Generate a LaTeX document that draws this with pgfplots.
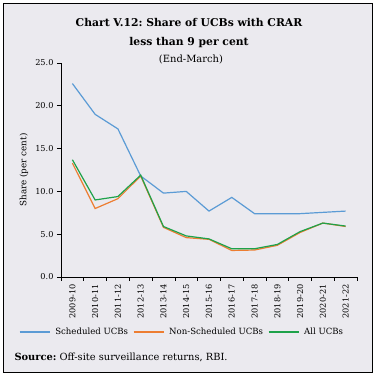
\documentclass[border=0pt]{standalone}
\usepackage{fontspec}
\setmainfont{DejaVu Serif}
\usepackage{pgfplots}
\pgfplotsset{compat=1.18}
\definecolor{bg}{HTML}{EBEAEF}
\definecolor{sblue}{HTML}{5B9BD5}
\definecolor{sorange}{HTML}{ED7D31}
\definecolor{sgreen}{HTML}{1EA24A}
\frenchspacing
\begin{document}
\begin{tikzpicture}
\path (0bp,0bp) rectangle (375bp,375bp);
\draw[fill=bg, line width=0.9bp] (3bp,3bp) rectangle (372bp,372bp);
\node[font=\bfseries\fontsize{10.8}{12}\selectfont] at (189bp,353bp) {Chart V.12: Share of UCBs with CRAR};
\node[font=\bfseries\fontsize{10.8}{12}\selectfont] at (189bp,332bp) {less than 9 per cent};
\node[font=\fontsize{10}{11}\selectfont] at (191bp,316bp) {(End-March)};
\node[anchor=west, font=\fontsize{9.9}{11}\selectfont] at (11bp,18bp) {\textbf{Source:} Off-site surveillance returns, RBI.};
\begin{axis}[
  at={(61bp,98bp)}, anchor=south west,
  scale only axis, width=296bp, height=214bp,
  xmin=-0.5, xmax=12.5, ymin=0, ymax=25,
  axis lines*=left,
  axis line style={line width=0.6bp},
  tick align=outside,
  xtick={0,...,12},
  xticklabels={2009-10,2010-11,2011-12,2012-13,2013-14,2014-15,2015-16,2016-17,2017-18,2018-19,2019-20,2020-21,2021-22},
  major x tick style={draw=none},
  minor xtick={-0.5,0.5,...,12.5},
  minor tick length=4bp,
  major tick length=4bp,
  minor x tick style={line width=0.6bp, black},
  ytick={0,5,...,25},
  y tick style={line width=0.6bp, black},
  yticklabel style={/pgf/number format/fixed, /pgf/number format/fixed zerofill, /pgf/number format/precision=1},
  /pgf/number format/assume math mode=true,
  tick label style={font=\fontsize{8.2}{9}\selectfont},
  x tick label style={rotate=90, anchor=east},
  ylabel={Share (per cent)},
  ylabel style={at={(axis description cs:-0.125,0.5)}, anchor=center, font=\fontsize{8.8}{10}\selectfont},
  legend style={at={(0.409,-0.257)}, anchor=center, draw=none, fill=none, legend columns=3, font=\fontsize{8.6}{10}\selectfont, column sep=3bp},
  legend image code/.code={\draw[#1] (0bp,0bp) -- (30bp,0bp);},
  every axis plot/.append style={line width=1.2bp, mark=none},
]
\addplot[sblue] coordinates {(0,22.6) (1,19.0) (2,17.3) (3,11.8) (4,9.8) (5,10.0) (6,7.7) (7,9.3) (8,7.4) (9,7.4) (10,7.4) (11,7.55) (12,7.7)};
\addlegendentry{Scheduled UCBs}
\addplot[sorange] coordinates {(0,13.3) (1,8.0) (2,9.15) (3,11.8) (4,5.8) (5,4.6) (6,4.4) (7,3.1) (8,3.15) (9,3.7) (10,5.2) (11,6.3) (12,5.9)};
\addlegendentry{Non-Scheduled UCBs}
\addplot[sgreen] coordinates {(0,13.7) (1,9.0) (2,9.4) (3,11.9) (4,5.9) (5,4.8) (6,4.45) (7,3.3) (8,3.3) (9,3.8) (10,5.3) (11,6.3) (12,5.95)};
\addlegendentry{All UCBs}
\end{axis}
\end{tikzpicture}
\end{document}
